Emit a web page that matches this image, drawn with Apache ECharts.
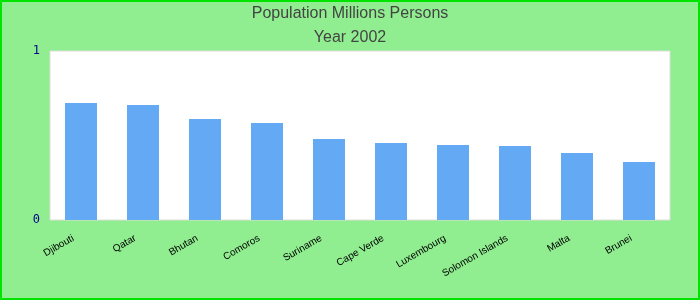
<!DOCTYPE html>
<html><head><meta charset="utf-8">
<script src="https://cdn.jsdelivr.net/npm/echarts@6/dist/echarts.min.js"></script>
<style>html,body{margin:0;padding:0;background:#90EE90}#c{width:700px;height:300px}</style>
</head><body><div id="c"></div>
<script>
const categories = ["Djibouti","Qatar","Bhutan","Comoros","Suriname","Cape Verde","Luxembourg","Solomon Islands","Malta","Brunei"];
const values = [0.692,0.680,0.598,0.574,0.479,0.456,0.444,0.438,0.396,0.343];
const yTicks = [0,1];
const titleLines = ["Population Millions Persons","Year 2002"];

const chart = echarts.init(document.getElementById('c'), null, {renderer:'canvas'});
chart.setOption({
  backgroundColor:'#90EE90',
  animation:false,
  title:{
    text: titleLines.join('\n'),
    left:'center', top:2, padding:0,
    textStyle:{fontFamily:'Liberation Sans, Arial, sans-serif', fontWeight:'normal', fontSize:16, color:'#444', lineHeight:23.5}
  },
  graphic:[{type:'rect', shape:{x:1,y:1,width:698,height:298}, style:{fill:'none', stroke:'#00E400', lineWidth:2}, z:100}],
  grid:{left:50, top:51, width:620, height:169, show:true, backgroundColor:'#fff', borderColor:'#ddd', borderWidth:1},
  xAxis:{
    type:'category', data:categories,
    axisLine:{show:false}, axisTick:{show:false},
    axisLabel:{interval:0, rotate:30, fontSize:10, color:'#000', fontFamily:'Liberation Sans, Arial, sans-serif', margin:13, padding:[0,9,0,0]}
  },
  yAxis:{
    type:'value', min:yTicks[0], max:yTicks[yTicks.length-1], interval:1,
    axisLine:{show:false}, axisTick:{show:false}, splitLine:{show:false},
    axisLabel:{fontSize:12, color:'#00008B', fontFamily:'DejaVu Sans Mono, monospace', margin:10, lineHeight:14, verticalAlign:'middle', padding:[2,0,0,0]}
  },
  series:[{type:'bar', data:values, barWidth:32, itemStyle:{color:'#63A9F4'}}]
});
</script></body></html>
